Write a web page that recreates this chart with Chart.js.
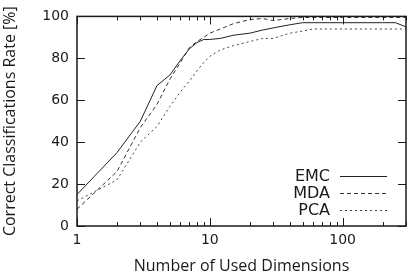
<!DOCTYPE html>
<html>
<head>
<meta charset="utf-8">
<script src="https://cdn.jsdelivr.net/npm/chart.js@4"></script>
<style>
  html, body { margin: 0; padding: 0; background: #fff; }
  #wrap { width: 413px; height: 278px; }
</style>
</head>
<body>
<div id="wrap"><canvas id="canvas" width="413" height="278"></canvas></div>
<script>
// number of used dimensions (x) and rates per method
const dims = [1, 2, 3, 4, 5, 6, 7, 8, 9, 10, 12, 15, 20, 25, 30, 40, 50, 60, 80, 100, 150, 200, 250, 300];
const emc  = [15, 35, 50, 67, 72, 79, 84.5, 87.5, 89, 89, 89.5, 91, 92, 93.5, 94.5, 96, 97, 97, 97, 97, 97, 97, 97, 95];
const mda  = [8, 26, 47, 58, 70, 78, 85, 88, 90, 92, 94, 96.5, 98.5, 99, 98, 99, 99.5, 99.5, 99.5, 99.5, 99.5, 99.5, 99.5, 99.5];
const pca  = [12, 22, 40, 47.5, 57, 64, 69, 74, 78, 81, 84, 86, 88, 89.5, 89.5, 92, 93, 94, 94, 94, 94, 94, 94, 94];

const seriesNames = ['EMC', 'MDA', 'PCA'];
const xTickValues = [1, 10, 100];
const yTickValues = [0, 20, 40, 60, 80, 100];

const ink = '#1a1a1a';
const tickFont = { family: 'DejaVu Sans', size: 14 };
const titleFont = { family: 'Open Sans', size: 16 };

function pts(vals) {
  return dims.map((d, i) => ({ x: d, y: vals[i] }));
}

const dataC = {
  datasets: [
    { label: seriesNames[0], data: pts(emc), borderColor: '#222', borderWidth: 1, borderDash: [] },
    { label: seriesNames[1], data: pts(mda), borderColor: '#333', borderWidth: 1, borderDash: [4, 3] },
    { label: seriesNames[2], data: pts(pca), borderColor: '#444', borderWidth: 1, borderDash: [2, 3] },
  ],
};

// frame, inward tick marks and in-plot legend, gnuplot style
const framePlugin = {
  id: 'frame',
  afterDraw(chart) {
    const ctx = chart.ctx;
    const a = chart.chartArea;
    const xs = chart.scales.x, ys = chart.scales.y;
    ctx.save();
    ctx.strokeStyle = ink;
    ctx.lineWidth = 1.5;
    ctx.strokeRect(a.left, a.top, a.right - a.left, a.bottom - a.top);

    ctx.lineWidth = 1;
    ctx.beginPath();
    // x ticks, major and minor, bottom and top
    for (let dec = 1; dec <= 100; dec *= 10) {
      for (let m = 1; m <= 9; m++) {
        const v = dec * m;
        if (v > xs.max) break;
        const px = Math.round(xs.getPixelForValue(v)) + 0.5;
        const len = m === 1 ? 8 : 4;
        ctx.moveTo(px, a.bottom); ctx.lineTo(px, a.bottom - len);
        ctx.moveTo(px, a.top); ctx.lineTo(px, a.top + len);
      }
    }
    // y ticks, left and right
    yTickValues.forEach(v => {
      const py = Math.round(ys.getPixelForValue(v)) + 0.5;
      ctx.moveTo(a.left, py); ctx.lineTo(a.left + 8, py);
      ctx.moveTo(a.right, py); ctx.lineTo(a.right - 8, py);
    });
    ctx.stroke();

    // legend
    ctx.font = '16px "DejaVu Sans"';
    ctx.textAlign = 'right';
    ctx.textBaseline = 'middle';
    ctx.fillStyle = ink;
    chart.data.datasets.forEach((ds, i) => {
      const y = a.bottom - 50 + i * 17;
      ctx.fillText(ds.label, a.right - 76, y + 1);
      ctx.strokeStyle = ds.borderColor;
      ctx.setLineDash(ds.borderDash);
      ctx.beginPath();
      ctx.moveTo(a.right - 66, y + 0.5);
      ctx.lineTo(a.right - 19, y + 0.5);
      ctx.stroke();
    });
    ctx.restore();
  },
};

const config = {
  type: 'line',
  data: dataC,
  options: {
    responsive: false,
    animation: false,
    devicePixelRatio: 1,
    layout: { padding: { top: 10, right: 7, left: 0, bottom: 0 } },
    elements: { point: { radius: 0 }, line: { tension: 0 } },
    plugins: { legend: { display: false }, tooltip: { enabled: false } },
    scales: {
      x: {
        type: 'logarithmic',
        min: 1,
        max: 300,
        afterBuildTicks: s => { s.ticks = xTickValues.map(v => ({ value: v })); },
        afterFit: s => { s.height = 52; },
        grid: { display: false, drawTicks: false },
        border: { display: false },
        ticks: { color: ink, font: tickFont, padding: 6, maxRotation: 0, autoSkip: false,
                 callback: v => String(v) },
        title: { display: true, text: 'Number of Used Dimensions', color: ink, font: titleFont,
                 padding: { top: 0, bottom: 2 } },
      },
      y: {
        min: 0,
        max: 100,
        afterBuildTicks: s => { s.ticks = yTickValues.map(v => ({ value: v })); },
        afterFit: s => { s.width = 77; },
        grid: { display: false, drawTicks: false },
        border: { display: false },
        ticks: { color: ink, font: tickFont, padding: 8 },
        title: { display: true, text: 'Correct Classifications Rate [%]', color: ink, font: titleFont,
                 padding: { top: 1, bottom: 0 } },
      },
    },
  },
  plugins: [framePlugin],
};

const canvas = document.getElementById('canvas');
const chart = new Chart(canvas, config);
</script>
</body>
</html>
